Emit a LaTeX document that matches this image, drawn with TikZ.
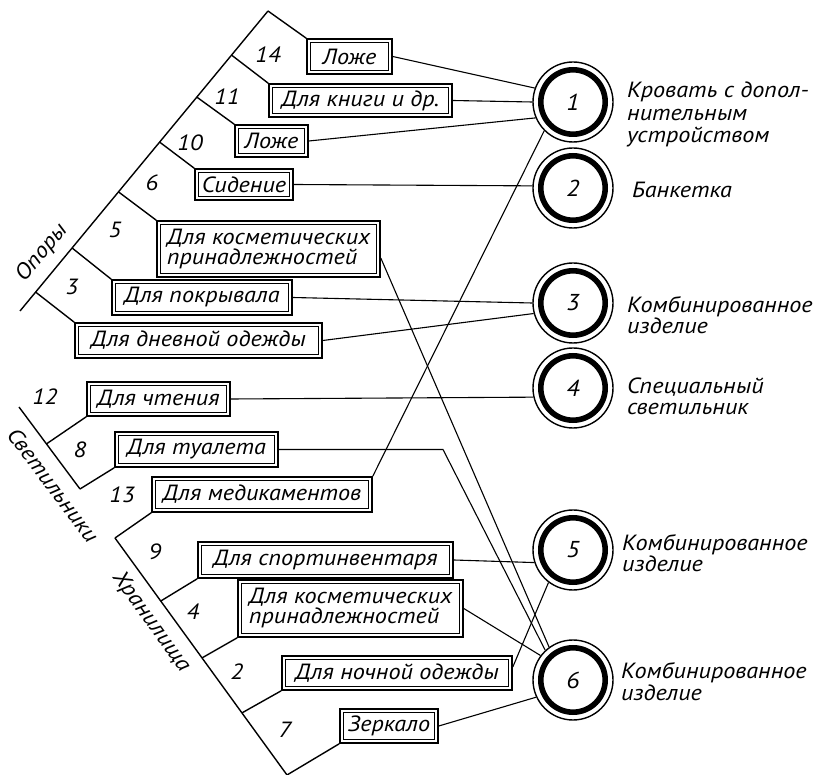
\documentclass[tikz,border=0pt]{standalone}
\usepackage{fontspec}
\setmainfont{PT Sans}[FakeStretch=1.1]
\usetikzlibrary{calc}
\begin{document}
\begin{tikzpicture}[x=1pt,y=-1pt,
  txt/.style={font=\itshape\fontsize{22}{20}\selectfont},
  fbox/.style 2 args={txt, rectangle, draw, line width=1.6pt, inner sep=0pt,
    minimum width=#1, minimum height=#2, align=left,
    path picture={\draw[line width=0.7pt]
      ([shift={(3.8pt,3.8pt)}]path picture bounding box.south west) rectangle
      ([shift={(-3.8pt,-3.8pt)}]path picture bounding box.north east);}},
  ring/.style={circle, draw, line width=1.4pt, minimum size=80pt, inner sep=0pt,
    font=\itshape\fontsize{23}{23}\selectfont,
    path picture={\draw[line width=5.6pt] (path picture bounding box.center) circle (32.2pt);}},
  num/.style={txt, font=\itshape\fontsize{22}{22}\selectfont, inner sep=0pt},
  lbl/.style={txt, anchor=west, align=left, inner sep=0pt},
  tree/.style={line width=1.4pt},
  link/.style={line width=1.1pt}]
\useasboundingbox (0,0) rectangle (815,775);

% boxes of the "supports" group
\node[fbox={85pt}{35pt}] (b14) at (349.5,56.5) {Ложе};
\node[fbox={183pt}{33pt}] (b11) at (360.5,100.5) {Для книги и др.};
\node[fbox={73pt}{32pt}] (b10) at (271.5,141) {Ложе};
\node[fbox={98pt}{31pt}] (b6) at (244,184.5) {Сидение};
\node[fbox={223pt}{56pt}] (b5) at (268.5,249) {Для косметических\\принадлежностей};
\node[fbox={180pt}{35pt}] (b3) at (202,297.5) {Для покрывала};
\node[fbox={247pt}{35pt}] (bd) at (198.5,340.5) {Для дневной одежды};
% lamps
\node[fbox={143pt}{34pt}] (b12) at (158.5,399) {Для чтения};
\node[fbox={163pt}{35pt}] (b8) at (196.5,449.5) {Для туалета};
% storage
\node[fbox={220pt}{35pt}] (b13) at (262,494.5) {Для медикаментов};
\node[fbox={255pt}{36pt}] (b9) at (325.5,560) {Для спортинвентаря};
\node[fbox={225pt}{57pt}] (b4) at (350.5,608.5) {Для косметических\\принадлежностей};
\node[fbox={230pt}{34pt}] (b2) at (397,673) {Для ночной одежды};
\node[fbox={98pt}{34pt}] (b7) at (389,726) {Зеркало};

% products
\node[ring] (c1) at (573,102) {1};
\node[ring] (c2) at (573,188) {2};
\node[ring] (c3) at (573,303) {3};
\node[ring] (c4) at (573,388) {4};
\node[ring] (c5) at (573,550) {5};
\node[ring] (c6) at (573,680) {6};

\node[lbl, font=\itshape\fontsize{22}{22.5}\selectfont] (l1) at (627,114.5) {Кровать с допол-\\нительным\\устройством};
\node[lbl, font=\itshape\fontsize{22}{20}\selectfont] (l2) at (632,190) {Банкетка};
\node[lbl, font=\itshape\fontsize{22}{20}\selectfont] (l3) at (627,315) {Комбинированное\\изделие};
\node[lbl, font=\itshape\fontsize{22}{21}\selectfont] (l4) at (627,396) {Специальный\\светильник};
\node[lbl, font=\itshape\fontsize{22}{18}\selectfont] (l5) at (622,553.5) {Комбинированное\\изделие};
\node[lbl, font=\itshape\fontsize{22}{22}\selectfont] (l6) at (621,681.5) {Комбинированное\\изделие};

% tree: supports
\coordinate (oA) at (20,311);
\coordinate (oB) at (268,11);
\coordinate (o11) at ($(oA)!0.853!(oB)$);
\coordinate (o10) at ($(oA)!0.713!(oB)$);
\coordinate (o6) at ($(oA)!0.563!(oB)$);
\coordinate (o5) at ($(oA)!0.397!(oB)$);
\coordinate (o3) at ($(oA)!0.21!(oB)$);
\coordinate (od) at ($(oA)!0.063!(oB)$);
\draw[tree] (oA) -- (oB);
\draw[tree] (oB) -- (b14.north west);
\draw[tree] (o11) -- (b11.north west);
\draw[tree] (o10) -- (b10.north west);
\draw[tree] (o6) -- (b6.north west);
\draw[tree] (o5) -- (b5.north west);
\draw[tree] (o3) -- (b3.north west);
\draw[tree] (od) -- (bd.north west);
\node[txt, rotate=50.4] (tOp) at (42,253) {Опоры};

% tree: lamps
\coordinate (sA) at (19,407);
\coordinate (sB) at (80,489);
\coordinate (s12) at ($(sA)!0.45!(sB)$);
\draw[tree] (sA) -- (sB);
\draw[tree] (s12) -- (b12.south west);
\draw[tree] (sB) -- (b8.south west);
\node[txt, rotate=-53] (tSv) at (53,485) {Светильники};

% tree: storage
\coordinate (hA) at (115,538);
\coordinate (hB) at (287,775);
\coordinate (h9) at ($(hA)!0.266!(hB)$);
\coordinate (h4) at ($(hA)!0.506!(hB)$);
\coordinate (h2) at ($(hA)!0.738!(hB)$);
\draw[tree] (hA) -- (hB);
\draw[tree] (hA) -- (b13.south west);
\draw[tree] (h9) -- (b9.south west);
\draw[tree] (h4) -- (b4.south west);
\draw[tree] (h2) -- (b2.south west);
\draw[tree] (hB) -- (b7.south west);
\node[txt, rotate=-54] (tHr) at (151,622) {Хранилища};

% element numbers
\node[num] (n14) at (268,55) {14};
\node[num] (n11) at (227,97) {11};
\node[num] (n10) at (190,143) {10};
\node[num] (n6) at (152,183) {6};
\node[num] (n5) at (115,230) {5};
\node[num] (n3) at (72,287) {3};
\node[num] (n12) at (45,397) {12};
\node[num] (n8) at (80,450) {8};
\node[num] (n13) at (122,495) {13};
\node[num] (n9) at (155,552) {9};
\node[num] (n4) at (193,612) {4};
\node[num] (n2) at (237,672) {2};
\node[num] (n7) at (285,730) {7};

% links from elements to products
\coordinate (bend) at (443,449.5);
\draw[link] (b14.east) -- (c1.160);
\draw[link] (b11.east) -- (c1.180);
\draw[link] (b10.east) -- (c1.203);
\draw[link] (b13.north east) -- (c1.225);
\draw[link] (b6.east) -- (c2.177);
\draw[link] (b3.east) -- (c3.180);
\draw[link] (bd.east) -- (c3.195);
\draw[link] (b12.east) -- (c4.193);
\draw[link] ([yshift=-9pt]b5.east) -- (c6.126);
\draw[link] (b8.east) -- (bend) -- (c6.133);
\draw[link] (b9.east) -- (c5.198);
\draw[link] (b4.east) -- (c6.143);
\draw[link] ([yshift=6pt]b2.east) -- (c5.233);
\draw[link] (b7.east) -- (c6.205);
\end{tikzpicture}
\end{document}
